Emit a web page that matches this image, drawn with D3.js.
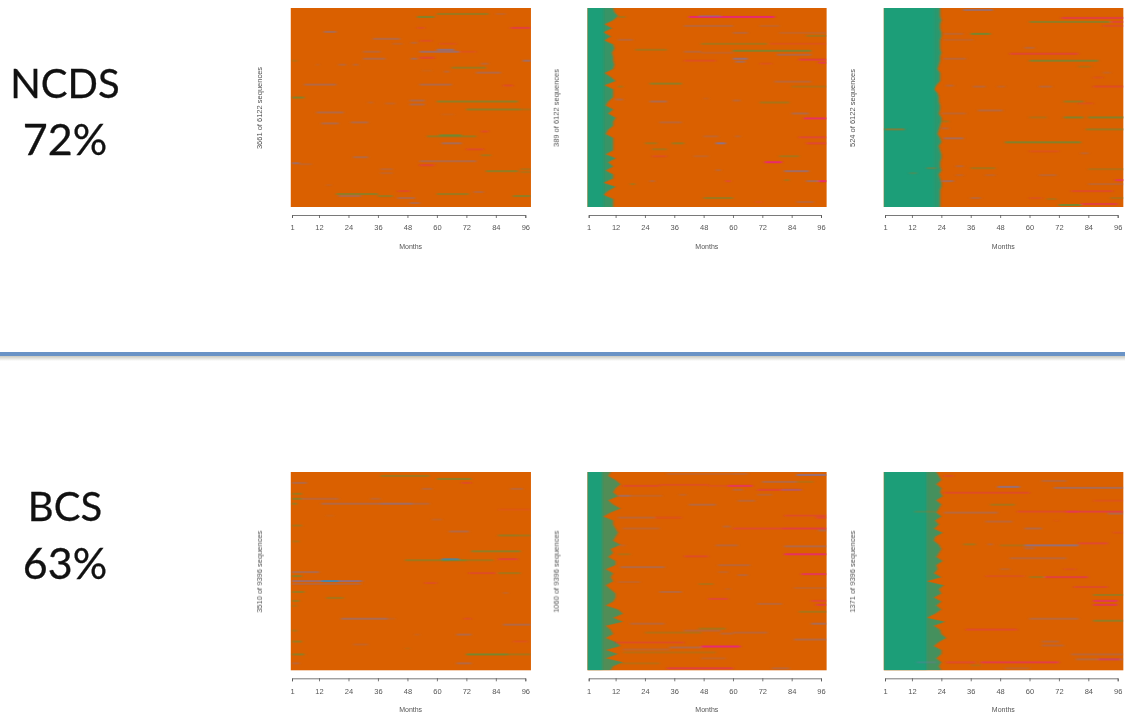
<!DOCTYPE html>
<html>
<head>
<meta charset="utf-8">
<script src="https://cdn.jsdelivr.net/npm/d3@7"></script>
<style>
body { margin: 0; background: #fff; }
svg { display: block; }
</style>
</head>
<body>
<script>
// month ticks shared by every panel
var monthTicks = [1, 12, 24, 36, 48, 60, 72, 84, 96];

var cohortNames = ["NCDS", "BCS"];
var cohortShares = ["72%", "63%"];
var panelLabels = [
  "3661 of 6122 sequences", "389 of 6122 sequences", "524 of 6122 sequences",
  "3510 of 9396 sequences", "1060 of 9396 sequences", "1371 of 9396 sequences"
];

// last month of the first state, read band by band from top to bottom
var edgeNcds12 = [11,11.5,13,11,7.5,10.5,7,10,7.5,11,11.5,10.5,11,11,11.5,11,7.5,10,12,7.5,11,11,11,9,8,11,9,12,11,11,9,8,11,11,11,11,8,12,9,11,8,11,11,7,12,9,7,11,11,11];
var edgeNcds24 = [23.5,23.5,23.5,24,23.5,23.5,24,24,23.5,23.5,23.5,24,23.5,23.5,23,22.5,23.5,23.5,23.5,22,21,22.5,23,23,23.5,23.5,23,24,24,23.5,23,22.5,23.5,24,23,23.5,24,24,23.5,23.5,24,23,23.5,24,24,23.5,23.5,23.5,23.5,23.5];
var edgeBcs12 = [10,9,12,14,12,11,13,9,11,14,10,7,11,11,12,13,12,11,14,10,11,9,12,12,8,11,10,11,8,10,12,12,11,8,13,15,11,15,8,10,11,8,12,14,8,13,8,15,11,10];
var edgeBcs24 = [22,23,24,22,24,23.5,24.5,22,24,23,22,24,21.5,23,21,24.5,21.5,21,23,24,23,22,24.5,22,22.5,21,24,18,25,23,24,21,24,22,24,21.5,18,25.5,21,23.5,24,26,23,21,24,24,22,24,23,24];

// month up to which every row is still in the first state
var coreMonths = [0, 7, 21, 0, 6.5, 18];
var fringeStrength = [0, 0.85, 0.92, 0, 0.72, 0.78];

// streaks: row (of 200), first month, last month, state, strength
var streaksNcds0 = [
  [8,52,59,"g",.7],[5,60,81,"g",.5],[5,84,88,"p",.2],[23,14,19,"p",.5],[19,90,98.3,"r",.5],[19,52,55,"r",.25],[30,34,45,"p",.4],[35,42,46,"p",.2],[34,49.5,52,"p",.3],[32,53,58,"r",.25],[35,61,68,"r",.2],[43,53,69,"p",.6],[41,60,67,"p",.7],[43,69,76,"r",.2],[43,30,37,"p",.3],[50,30,39,"p",.4],[50,49.5,52,"p",.5],[49,53,59,"r",.4],[52,95,98.3,"p",.6],[52,1,3,"g",.3],[56,11,12,"p",.2],[56,20,23,"p",.3],[56,26,28,"p",.3],[59,66,80,"g",.5],[55,78,81,"p",.3],[64,76,86,"p",.4],[62,54,58,"p",.1],[63,63,65,"p",.3],[76,6,19,"p",.4],[76,53,66,"p",.4],[77,87,91,"r",.3],[89,1,6,"g",.7],[93,60,93,"g",.6],[92,49,55,"p",.4],[96,49,55,"p",.4],[94,32,34,"p",.2],[95,39,43,"p",.2],[101,72,94,"g",.6],[101,94,98.3,"g",.3],[104,11,22,"p",.4],[115,13,20,"p",.4],[114,25,32,"p",.4],[106,62,67,"p",.1],[128,56,76,"g",.5],[127,61,70,"g",.8],[123,78,81,"r",.3],[135,62,70,"p",.5],[141,72,79,"r",.3],[147,78,82,"g",.4],[149,26,32,"p",.4],[155,1,4,"p",.6],[156,4,9,"p",.2],[153,53,76,"p",.4],[157,53,59,"r",.4],[161,37,42,"p",.25],[165,37,42,"p",.2],[163,80,93,"g",.6],[161,94,98.3,"g",.3],[164,94,98.3,"g",.3],[186,19,36,"g",.6],[188,20,29,"p",.4],[188,36,42,"g",.5],[183,44,49,"r",.3],[190,44,51,"p",.4],[195,49,53,"p",.4],[186,60,73,"g",.5],[184,75,79,"p",.3],[188,91,98.3,"g",.6],[177,15,17,"p",.15]
];
var streaksNcds12 = [
  [8,42,77,"r",.9],[7,46,55,"p",.4],[17,40,60,"p",.3],[17,71,79,"p",.2],[24,60,66,"p",.3],[24,79,98.3,"p",.2],[27,90,98.3,"g",.4],[31,13,19,"p",.3],[35,47,74,"g",.4],[35,75,98.3,"r",.2],[41,20,33,"g",.4],[42,60,92,"g",.7],[43,40,47,"p",.3],[44,47,60,"p",.2],[46,78,92,"p",.4],[50,60,66,"p",.7],[51,87,98.3,"r",.5],[52,40,53,"r",.25],[53,61,65,"p",.5],[54,95,98.3,"r",.6],[55,71,76,"r",.2],[75,26,39,"g",.6],[73,77,92,"p",.3],[78,13,15,"g",.4],[78,84,98.3,"g",.3],[91,12,15,"p",.4],[93,26,33,"p",.45],[92,60,63,"p",.3],[94,71,83,"g",.4],[90,48,50,"p",.15],[105,84,91,"p",.4],[110,89,98.3,"r",.8],[114,30,39,"p",.3],[128,48,54,"p",.25],[128,61,63,"p",.25],[129,87,98.3,"r",.4],[135,24,29,"g",.4],[135,35,40,"g",.5],[135,53,57,"p",.8],[135,90,98.3,"r",.4],[141,27,33,"g",.4],[148,27,33,"r",.25],[148,44,50,"p",.2],[148,79,87,"g",.4],[154,73,80,"r",.9],[163,81,91,"p",.6],[162,53,55,"p",.3],[173,90,95,"p",.5],[173,95,98.3,"r",.9],[173,26,28,"p",.3],[173,57,59,"r",.4],[172,81,83,"g",.4],[176,18,20,"g",.4],[190,48,60,"g",.5],[194,69,72,"r",.15],[194,86,93,"p",.3],[8,13,16,"g",.4]
];
var streaksNcds24 = [
  [1,33,45,"p",.6],[9,73,98.3,"r",.5],[13,60,93,"g",.6],[13,93,98.3,"r",.4],[17,90,98.3,"r",.25],[25,36,44,"g",.8],[25,25,33,"p",.25],[31,25,37,"p",.2],[39,58,62,"p",.3],[45,52,80,"r",.4],[52,60,88,"g",.7],[50,25,34,"p",.3],[58,80,85,"g",.3],[64,90,93,"p",.2],[69,86,90,"r",.2],[77,26,29,"p",.3],[78,37,42,"p",.3],[78,47,50,"p",.2],[78,64,69,"p",.3],[78,86,98.3,"r",.3],[93,74,82,"g",.5],[95,80,86,"r",.2],[102,39,49,"p",.35],[105,24,34,"p",.25],[109,60,67,"g",.3],[109,74,82,"g",.7],[109,84,98.3,"g",.7],[113,24,27,"g",.4],[121,83,98.3,"g",.5],[120,24,27,"p",.3],[130,25,33,"p",.5],[134,50,81,"g",.7],[143,60,72,"r",.2],[145,81,84,"p",.25],[158,30,33,"p",.3],[160,36,46,"g",.4],[161,84,98.3,"g",.3],[167,30,33,"p",.2],[167,64,71,"p",.25],[167,42,46,"p",.2],[172,95,98.3,"r",.7],[173,24,29,"p",.5],[176,84,98.3,"p",.25],[183,77,94,"r",.3],[190,36,40,"p",.3],[190,93,98.3,"g",.3],[190,60,65,"r",.2],[191,67,71,"g",.3],[197,72,81,"g",.8],[196,81,96,"r",.5],[121,1,9,"o",.5],[160,18,22,"o",.3],[165,11,14,"o",.2]
];
var streaksBcs0 = [
  [3,37,57,"g",.45],[6,60,74,"g",.6],[10,70,74,"r",.3],[10,1,7,"p",.4],[16,54,58,"p",.3],[16,90,95,"p",.3],[21,1,5,"g",.5],[26,1,5,"g",.6],[26,5,20,"p",.3],[26,33,37,"p",.25],[31,1,3,"g",.6],[31,13,50,"p",.4],[31,37,57,"p",.3],[43,15,18,"p",.1],[47,58,62,"p",.2],[37,85,98.3,"r",.15],[53,1,5,"g",.4],[59,65,73,"p",.4],[63,85,93,"g",.5],[63,93,98.3,"g",.4],[69,1,4,"g",.3],[79,74,94,"g",.6],[88,47,65,"g",.5],[88,62,72,"g",.7],[87,62,69,"b",.8],[88,72,83,"g",.4],[87,85,93,"r",.45],[100,1,12,"p",.45],[104,1,5,"g",.6],[109,1,29,"p",.6],[109,13,20,"b",.9],[109,20,30,"p",.3],[112,1,29,"p",.3],[111,55,60,"r",.25],[101,73,84,"r",.3],[101,85,94,"g",.4],[120,1,6,"g",.5],[126,15,22,"g",.4],[121,87,89,"p",.2],[129,1,4,"g",.5],[134,1,3,"g",.3],[147,21,40,"p",.5],[147,40,43,"p",.15],[147,71,74,"r",.25],[153,87,98.3,"p",.4],[159,1,3,"g",.4],[163,51,53,"p",.15],[163,68,74,"p",.4],[170,1,5,"g",.5],[173,26,32,"p",.2],[170,91,97,"r",.2],[177,47,49,"g",.15],[183,1,6,"g",.6],[183,72,89,"g",.8],[183,89,98.3,"g",.4],[192,1,4,"p",.3],[192,68,74,"p",.4]
];
var streaksBcs12 = [
  [1,33,60,"p",.2],[1,60,66,"p",.25],[2,86,98.3,"p",.7],[9,72,86,"p",.4],[9,86,93,"g",.25],[13,15,30,"r",.3],[12,30,50,"r",.25],[13,50,58,"r",.2],[13,58,68,"r",.7],[17,60,64,"p",.3],[17,70,88,"r",.4],[17,80,88,"p",.4],[22,38,41,"p",.2],[23,13,18,"p",.5],[22,70,76,"p",.25],[23,18,31,"p",.2],[28,62,69,"p",.3],[32,42,53,"p",.35],[45,13,28,"p",.3],[45,28,39,"r",.2],[43,81,98.3,"r",.3],[45,94,98.3,"r",.4],[54,56,59,"p",.3],[56,15,30,"p",.25],[56,60,80,"r",.35],[56,80,98.3,"r",.5],[58,95,98.3,"p",.4],[73,53,62,"p",.3],[74,81,98.3,"p",.4],[73,13,16,"p",.2],[82,81,98.3,"r",.8],[84,40,50,"r",.3],[82,13,18,"g",.3],[95,14,32,"p",.4],[93,54,67,"p",.3],[100,54,58,"p",.2],[103,62,66,"p",.3],[102,88,98.3,"r",.7],[112,46,52,"g",.3],[110,13,22,"p",.2],[120,30,39,"p",.35],[117,57,59,"p",.15],[116,85,98.3,"p",.2],[127,50,58,"r",.4],[129,92,98.3,"r",.4],[132,70,80,"p",.3],[133,94,98.3,"r",.5],[140,87,98.3,"g",.4],[152,18,32,"p",.3],[152,92,98.3,"p",.5],[157,46,57,"g",.4],[161,24,47,"g",.3],[159,40,55,"p",.3],[162,55,60,"p",.3],[161,60,74,"p",.3],[168,85,98.3,"p",.4],[171,12,40,"r",.3],[175,47,63,"r",.95],[176,34,47,"p",.4],[178,15,34,"p",.25],[181,15,53,"g",.25],[187,47,57,"p",.2],[192,14,30,"g",.25],[197,33,60,"r",.5],[197,76,83,"p",.3]
];
var streaksBcs24 = [
  [3,25,29,"r",.25],[8,65,75,"p",.3],[14,47,56,"p",.7],[15,70,98.3,"p",.5],[20,25,60,"r",.3],[28,86,98.3,"r",.2],[32,44,54,"g",.4],[39,13,22,"o",.2],[40,25,47,"p",.35],[39,55,80,"r",.3],[39,75,98.3,"r",.5],[41,92,98.3,"p",.4],[49,42,53,"p",.3],[48,70,72,"r",.1],[56,58,65,"p",.4],[60,94,98.3,"r",.2],[72,33,38,"g",.4],[72,43,45,"p",.3],[73,48,58,"g",.3],[73,58,80,"p",.7],[71,80,92,"r",.4],[76,58,62,"p",.3],[86,52,75,"p",.3],[97,48,52,"p",.2],[97,74,79,"r",.2],[104,42,58,"r",.2],[105,60,66,"g",.4],[105,66,84,"r",.5],[115,78,92,"r",.3],[123,86,98.3,"g",.5],[129,86,96,"r",.7],[133,86,96,"r",.6],[147,60,80,"p",.35],[149,86,98.3,"g",.6],[158,34,55,"r",.35],[170,65,72,"p",.3],[174,65,74,"p",.3],[183,77,98.3,"p",.3],[188,79,98.3,"p",.35],[188,88,97,"r",.5],[191,26,38,"r",.35],[191,40,72,"r",.6],[194,36,40,"g",.25],[191,14,22,"p",.3],[197,50,60,"p",.2]
];

var panelEdges = [[], edgeNcds12, edgeNcds24, [], edgeBcs12, edgeBcs24];
var panelStreaks = [streaksNcds0, streaksNcds12, streaksNcds24, streaksBcs0, streaksBcs12, streaksBcs24];

var stateColor = { g: "#5f8f3a", p: "#7a75a8", r: "#e8267a", b: "#3f87b0", o: "#d95f02" };
var orange = "#da6000", green = "#1f9e78", textGrey = "#555";

var width = 1125, height = 715;
var rowCount = 200;
var monthStart = 0.5, monthEnd = 98.3;

// left end of month 1 and month 96 for each column, top/bottom of each row of panels
var colX = [[292, 525.3], [588.7, 821], [885, 1117.7]];
var rowY = [[8, 207], [472, 670.3]];

var svg = d3.select("body").append("svg").attr("width", width).attr("height", height);

var defs = svg.append("defs");
defs.append("filter").attr("id", "soft").attr("x", "-2%").attr("y", "-2%").attr("width", "104%").attr("height", "104%")
  .append("feGaussianBlur").attr("stdDeviation", 0.5);
defs.append("filter").attr("id", "smear").attr("x", "-5%").attr("y", "-5%").attr("width", "110%").attr("height", "110%")
  .append("feGaussianBlur").attr("stdDeviation", "1.6 0.6");
defs.append("filter").attr("id", "fringe").attr("x", "-10%").attr("y", "-2%").attr("width", "120%").attr("height", "104%")
  .append("feGaussianBlur").attr("stdDeviation", "0.9 0.4");
defs.append("filter").attr("id", "softer").attr("x", "-5%").attr("y", "-5%").attr("width", "110%").attr("height", "110%")
  .append("feGaussianBlur").attr("stdDeviation", 0.3);
var shadow = defs.append("linearGradient").attr("id", "ruleShadow").attr("x1", 0).attr("x2", 0).attr("y1", 0).attr("y2", 1);
shadow.append("stop").attr("offset", 0).attr("stop-color", "#c9c9c0");
shadow.append("stop").attr("offset", 1).attr("stop-color", "#fff");

function drawPanel(i) {
  var col = i % 3, row = Math.floor(i / 3);
  var top = rowY[row][0], bottom = rowY[row][1];
  var x = d3.scaleLinear().domain([1, 96]).range(colX[col]);
  var y = d3.scaleBand().domain(d3.range(rowCount)).range([top, bottom]);
  var edges = panelEdges[i];

  defs.append("clipPath").attr("id", "clip" + i).append("rect")
    .attr("x", x(monthStart)).attr("y", top)
    .attr("width", x(monthEnd) - x(monthStart)).attr("height", bottom - top);

  var g = svg.append("g");
  var plot = g.append("g").attr("filter", "url(#soft)");

  plot.append("rect")
    .attr("x", x(monthStart)).attr("y", top)
    .attr("width", x(monthEnd) - x(monthStart)).attr("height", bottom - top)
    .attr("fill", orange);

  var clipped = g.append("g").attr("clip-path", "url(#clip" + i + ")");

  if (edges.length) {
    // spiky edge between the first state and the rest, solid core behind it
    var yEdge = d3.scaleLinear().domain([0, edges.length - 1]).range([top, bottom]);
    var area = d3.area()
      .x0(x(monthStart))
      .x1(function (d) { return x(d); })
      .y(function (d, k) { return yEdge(k); });
    clipped.append("path").datum(edges)
      .attr("d", area)
      .attr("fill", green)
      .attr("opacity", fringeStrength[i])
      .attr("filter", "url(#fringe)");
    clipped.append("rect")
      .attr("x", x(monthStart)).attr("y", top)
      .attr("width", x(coreMonths[i]) - x(monthStart)).attr("height", bottom - top)
      .attr("fill", green)
      .attr("filter", "url(#fringe)");
  }

  clipped.append("g").attr("filter", "url(#smear)")
    .selectAll("rect").data(panelStreaks[i]).enter().append("rect")
    .attr("x", function (d) { return x(d[1]); })
    .attr("y", function (d) { return y(d[0]); })
    .attr("width", function (d) { return x(d[2]) - x(d[1]); })
    .attr("height", y.bandwidth() * 2)
    .attr("fill", function (d) { return stateColor[d[3]]; })
    .attr("opacity", function (d) { return d[4]; });

  var axis = d3.axisBottom(x).tickValues(monthTicks).tickSize(3).tickSizeOuter(3).tickFormat(d3.format("d"));
  var axisG = g.append("g")
    .attr("transform", "translate(0," + (bottom + 8) + ")")
    .attr("filter", "url(#softer)")
    .call(axis);
  axisG.select(".domain").attr("stroke", "#555").attr("stroke-width", 0.8);
  axisG.selectAll(".tick line").attr("stroke", "#555").attr("stroke-width", 0.8);
  axisG.selectAll(".tick text")
    .attr("y", 13).attr("dy", "0.32em")
    .attr("fill", textGrey)
    .style("font-family", "Liberation Sans, sans-serif")
    .style("font-size", "7.5px");

  g.append("text")
    .attr("x", (x(1) + x(96)) / 2 + 2)
    .attr("y", bottom + 42)
    .attr("text-anchor", "middle")
    .attr("fill", textGrey)
    .attr("filter", "url(#softer)")
    .style("font-family", "Liberation Sans, sans-serif")
    .style("font-size", "7px")
    .text("Months");

  var lx = x(1) - 30, ly = (top + bottom) / 2 + 0.5;
  g.append("text")
    .attr("transform", "translate(" + lx + "," + ly + ") rotate(-90)")
    .attr("text-anchor", "middle")
    .attr("fill", textGrey)
    .attr("filter", "url(#softer)")
    .style("font-family", "Liberation Sans, sans-serif")
    .style("font-size", "7.5px")
    .text(panelLabels[i]);
}

d3.range(6).forEach(drawPanel);

// cohort captions on the left
var captionY = [[98, 155], [521, 579]];
cohortNames.forEach(function (name, i) {
  svg.append("text").attr("x", 65).attr("y", captionY[i][0])
    .attr("text-anchor", "middle").attr("fill", "#111").attr("stroke", "#111").attr("stroke-width", 0.3)
    .style("font-family", "Lato, sans-serif").style("font-size", "40px")
    .text(name);
  svg.append("text").attr("x", 65).attr("y", captionY[i][1])
    .attr("text-anchor", "middle").attr("fill", "#111").attr("stroke", "#111").attr("stroke-width", 0.3)
    .style("font-family", "Lato, sans-serif").style("font-size", "43px")
    .text(cohortShares[i]);
});

// divider with its shadow
svg.append("rect").attr("x", 0).attr("y", 356).attr("width", width).attr("height", 5).attr("fill", "url(#ruleShadow)");
svg.append("rect").attr("x", 0).attr("y", 352).attr("width", width).attr("height", 4).attr("fill", "#6a93c6");
</script>
</body>
</html>
